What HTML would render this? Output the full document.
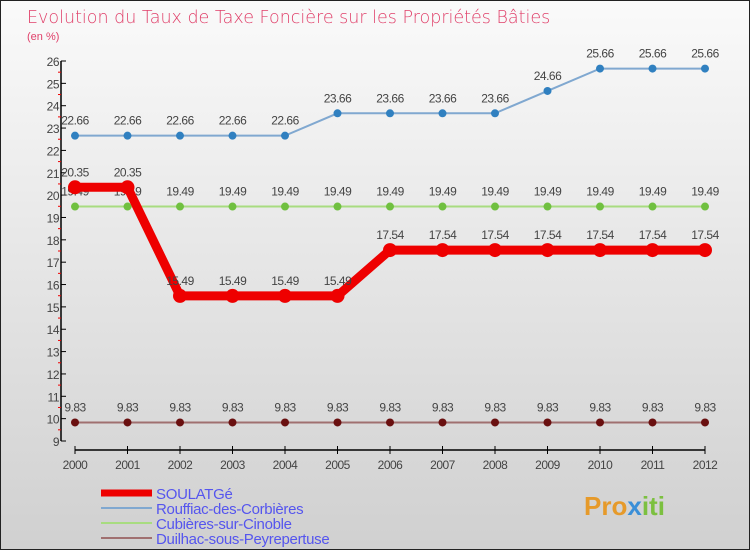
<!DOCTYPE html>
<html><head><meta charset="utf-8">
<style>
html,body{margin:0;padding:0}
body{width:750px;height:550px;overflow:hidden;font-family:"Liberation Sans",sans-serif}
#wrap{position:relative;width:748px;height:548px;border:1px solid #222;background:linear-gradient(#fafafa,#d0d0d0)}
</style></head><body>
<div id="wrap">
<svg id="chart" width="748" height="548">
<text x="26" y="22" font-size="17.5" fill="#e0406a" font-family="DejaVu Sans" style="font-weight:200">Evolution du Taux de Taxe Foncière sur les Propriétés Bâties</text>
<text x="26" y="39" font-size="11" fill="#e0406a">(en %)</text>
<g id="axes"></g><g id="series"></g><g id="legend"></g>
<text x="583" y="514" font-size="26" font-weight="bold" fill="#e69a2a">Pro<tspan fill="#3a8fd8">x</tspan><tspan fill="#7cc040">iti</tspan></text>
</svg>
</div>
<script>
const years=[2000,2001,2002,2003,2004,2005,2006,2007,2008,2009,2010,2011,2012];
const soulatge=[20.35,20.35,15.49,15.49,15.49,15.49,17.54,17.54,17.54,17.54,17.54,17.54,17.54];
const rouffiac=[22.66,22.66,22.66,22.66,22.66,23.66,23.66,23.66,23.66,24.66,25.66,25.66,25.66];
const cubieres=[19.49,19.49,19.49,19.49,19.49,19.49,19.49,19.49,19.49,19.49,19.49,19.49,19.49];
const duilhac=[9.83,9.83,9.83,9.83,9.83,9.83,9.83,9.83,9.83,9.83,9.83,9.83,9.83];
const yTicks=[9,10,11,12,13,14,15,16,17,18,19,20,21,22,23,24,25,26];
const NS="http://www.w3.org/2000/svg";
const X=i=>74+i*52.5, Y=v=>440-(v-9)*(380/17);
function mk(tag,attrs,parent,txt){const e=document.createElementNS(NS,tag);for(const k in attrs)e.setAttribute(k,attrs[k]);if(txt!==undefined)e.textContent=txt;parent.appendChild(e);return e;}
const ax=document.getElementById('axes');
let e=mk('line',{x1:60,y1:Y(26),x2:60,y2:Y(9),stroke:'#000','stroke-width':1.5},ax);


yTicks.forEach(t=>{
 mk('line',{x1:60,y1:Y(t),x2:65,y2:Y(t),stroke:'#000'},ax);
 if(t<26) mk('line',{x1:57,y1:Y(t+0.5),x2:60,y2:Y(t+0.5),stroke:'#e00'},ax);
 const l=mk('text',{x:58,y:Y(t)+5,'text-anchor':'end','font-size':12,fill:'#444','letter-spacing':'-0.5'},ax,t);
 
 
});
e=mk('line',{x1:X(0),y1:449,x2:X(12),y2:449,stroke:'#000','stroke-width':1.5},ax);


years.forEach((y,i)=>{
 mk('line',{x1:X(i),y1:445,x2:X(i),y2:453,stroke:'#000'},ax);
 const l=mk('text',{x:X(i),y:468,'text-anchor':'middle','font-size':12,fill:'#444','letter-spacing':'-0.5'},ax,y);
 
 
});
const sg=document.getElementById('series');
function series(vals,color,dot,w,r,name,labels){
 const g=mk('g',{},sg);
 
 
 mk('polyline',{points:vals.map((v,i)=>X(i)+','+Y(v)).join(' '),fill:'none',stroke:color,'stroke-width':w},g);
 vals.forEach((v,i)=>{
  const c=mk('circle',{cx:X(i),cy:Y(v),r:r,fill:dot},g);
  
  
  if(labels){const t=mk('text',{x:X(i),y:Y(v)-11,'text-anchor':'middle','font-size':12,fill:'#444','letter-spacing':'-0.5'},g,v.toFixed(2));
  
  }
 });
}
series(duilhac,'#a07070','#6a1010',2,4,'duilhac-series',true);
series(cubieres,'#a8dc80','#70c040',2,4,'cubieres-series',true);
series(rouffiac,'#80a8d0','#3080c0',2,4,'rouffiac-series',true);
series(soulatge,'#ee0000','#ee0000',9,7,'soulatge-series',true);
const lg=document.getElementById('legend');
[['SOULATGé','#ee0000',7],['Rouffiac-des-Corbières','#80a8d0',2],['Cubières-sur-Cinoble','#a8dc80',2],['Duilhac-sous-Peyrepertuse','#a07070',2]].forEach((d,i)=>{
 const y=493+i*15;
 const g=mk('g',{},lg);
 
 
 mk('line',{x1:100,y1:y-1,x2:151,y2:y-1,stroke:d[1],'stroke-width':d[2]},g);
 mk('text',{x:155,y:y+5,'font-size':15,fill:'#5555ee','letter-spacing':'-0.3'},g,d[0]);
});
</script>
</body></html>
